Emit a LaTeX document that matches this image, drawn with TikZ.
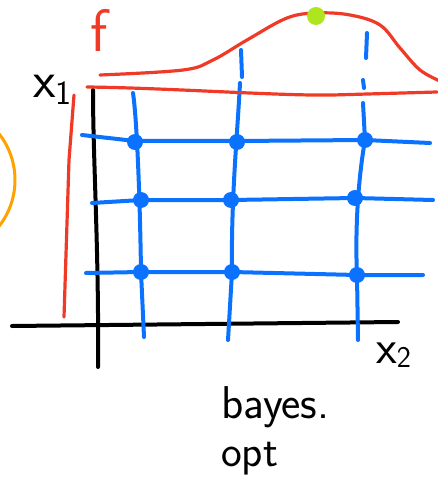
\documentclass[tikz,border=0pt]{standalone}
\usepackage{tikz}
\usetikzlibrary{positioning}
\definecolor{penblue}{HTML}{0A72FF}
\definecolor{penred}{HTML}{EE3A26}
\definecolor{penorange}{HTML}{FFA200}
\definecolor{pengreen}{HTML}{AEE51E}
\tikzset{
  axis/.style={draw=black, line width=4pt, line cap=round},
  gridline/.style={draw=penblue, line width=4pt, line cap=round},
  probe/.style={circle, fill=penblue, inner sep=0pt, minimum size=#1},
  probe/.default=16pt,
  pen/.style={draw=penred, line width=3.2pt, line cap=round},
  hand/.style={font=\sffamily\fontsize{#1}{#1}\selectfont, inner sep=0pt},
}

\begin{document}
\begin{tikzpicture}[x=1pt, y=-1pt]
    \useasboundingbox (0,0) rectangle (437,478);
    % axes
    \coordinate (xl) at (12,326);
    \coordinate (xr) at (398,322);
    \coordinate (yt) at (93,90);
    \coordinate (yb) at (98,367);
    \draw[axis] (xl) -- (xr);
    \draw[axis] (yt) .. controls (93,160) and (99,250) .. (yb);
    \node[hand=52, anchor=base west] (xa) at (33,98) {x\raisebox{-0.3ex}{\fontsize{34}{34}\selectfont 1}};
    \node[hand=48, anchor=base west] (xb) at (376,363) {x\raisebox{-0.2ex}{\fontsize{30}{30}\selectfont 2}};

    % grid of samples
    \draw[gridline] (133,93) .. controls (137,120) and (140,200) .. (141,272) -- (144,337);
    \draw[gridline] (240,83) .. controls (237,140) and (231,200) .. (232,272) -- (228,340);
    \draw[gridline] (363,103) -- (365,140) .. controls (358,180) and (355,230) .. (357,275) -- (358,340);
    \draw[gridline] (82,135) -- (135,141) -- (237,141) -- (365,140) -- (430,143);
    \draw[gridline] (92,203) -- (141,200) -- (231,200) -- (355,198) -- (433,200);
    \draw[gridline] (86,273) -- (141,272) -- (232,272) -- (357,275) -- (423,275);
    \foreach \px/\py in {135/142, 237/142, 365/140, 141/200, 231/200, 355/198, 141/272, 232/272, 357/275}
      \node[probe] at (\px,\py) {};
    \draw[gridline] (241,50) -- (242,77);
    \draw[gridline] (367,33) -- (366,58);
    \draw[gridline] (363,80) -- (364,88);

    % objective f
    \node[hand=60, text=penred, anchor=base] (f) at (99,52) {f};
    \draw[pen] (87,87) .. controls (170,88) and (280,96) .. (333,95) -- (437,92);
    \draw[pen] plot[smooth, tension=0.6] coordinates {(100,75) (183,70) (213,60) (247,40) (287,18) (317,13) (350,15) (380,25) (400,48) (420,70) (440,81)};
    \node[circle, fill=pengreen, inner sep=0pt, minimum size=18pt] (best) at (316,16) {};
    \draw[pen] (74,95) -- (69,160) -- (64,317);
    \draw[draw=penorange, line width=3pt] (-60,180) circle (75);

    \node[hand=46, anchor=base west] (bo) at (221,418) {bayes.};
    \node[hand=44, anchor=base west] (op) at (221,466) {opt};
  \end{tikzpicture}
\end{document}
